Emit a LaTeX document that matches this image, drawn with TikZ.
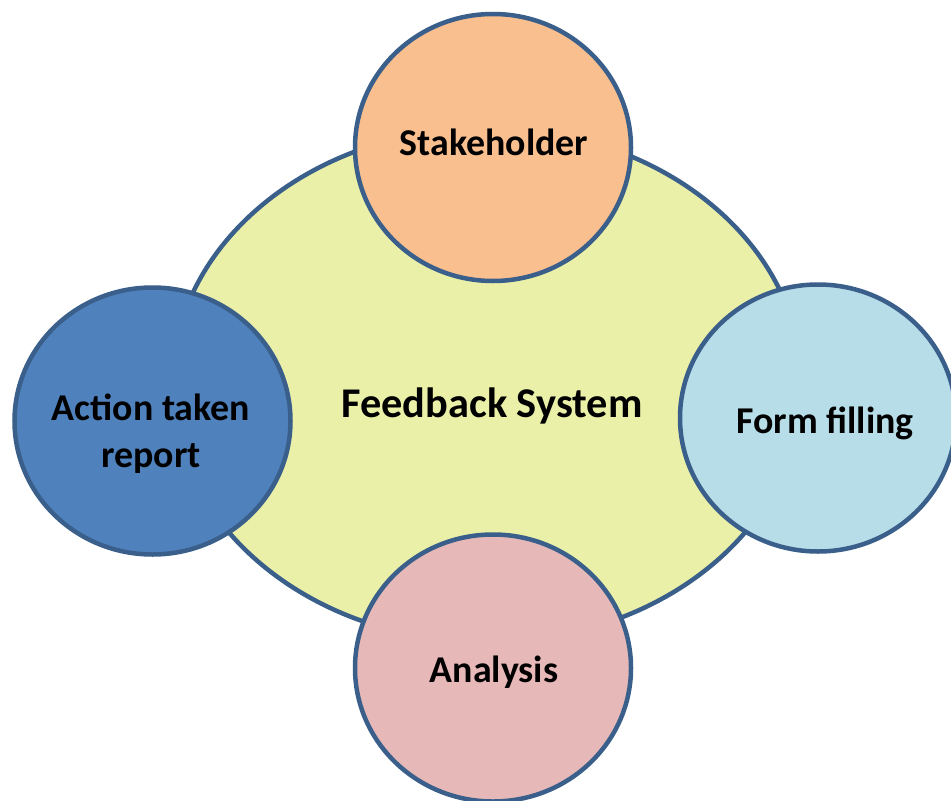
\documentclass[tikz,border=0pt]{standalone}
\usepackage{fontspec}
\setmainfont{Carlito}
\usetikzlibrary{shapes.geometric}
\definecolor{rim}{HTML}{3A5F8B}
\definecolor{sysfill}{HTML}{EBF0A8}
\definecolor{stakefill}{HTML}{F9BF8F}
\definecolor{actfill}{HTML}{4F81BD}
\definecolor{formfill}{HTML}{B7DDE8}
\definecolor{anafill}{HTML}{E6B9B8}
\begin{document}
\begin{tikzpicture}[x=1bp,y=-1bp,
  blob/.style={ellipse,draw=rim,line width=4.5bp,inner sep=0pt,
    minimum width=276bp,minimum height=267bp},
  lbl/.style={font=\fontsize{38}{47}\selectfont\bfseries,align=center,anchor=base}]
\useasboundingbox (0,0) rectangle (951,801);

\node[blob,fill=sysfill,minimum width=630bp,minimum height=514bp] (system) at (487,385) {};

\node[blob,fill=stakefill] (stake) at (493,147.5) {};
\node[blob,fill=actfill] (action) at (152.5,421) {};
\node[blob,fill=formfill] (form) at (818,418) {};
\node[blob,fill=anafill] (analysis) at (493,668) {};

\node[lbl,font=\fontsize{42.5}{47}\selectfont\bfseries] (systemlbl) at (492,417) {Feedback System};
\node[lbl] (stakelbl) at (494,155) {Stakeholder};
\node[lbl,anchor=center] (actionlbl) at (151,434) {Action taken\\report};
\node[lbl] (formlbl) at (825,433) {Form filling};
\node[lbl] (analysislbl) at (494,682) {Analysis};
\end{tikzpicture}
\end{document}
